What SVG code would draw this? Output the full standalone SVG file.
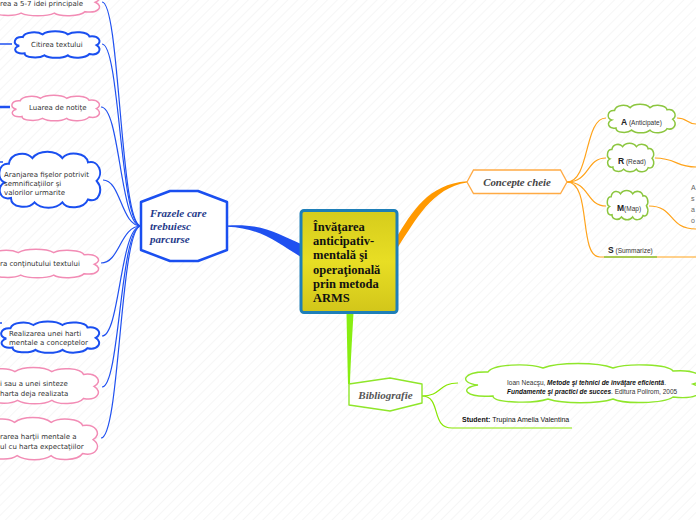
<svg xmlns="http://www.w3.org/2000/svg" width="696" height="520" viewBox="0 0 696 520">
<defs>
<pattern id="bg" width="7" height="7" patternUnits="userSpaceOnUse" patternTransform="rotate(45)">
<rect width="7" height="7" fill="#ffffff"/>
<line x1="0" y1="0" x2="0" y2="7" stroke="#f1f1f1" stroke-width="1.2"/>
</pattern>
<linearGradient id="yel" x1="0" y1="0" x2="0" y2="1">
<stop offset="0" stop-color="#d6cc1c"/>
<stop offset="0.5" stop-color="#e8de24"/>
<stop offset="1" stop-color="#d2c61a"/>
</linearGradient>
<symbol id="cloud" viewBox="0 0 100 40" preserveAspectRatio="none" overflow="visible">
<path vector-effect="non-scaling-stroke" d="M8,22 C0,20 2,8 12,9 C14,1 28,0 34,5 C40,-1 56,-1 62,5 C68,0 84,1 86,8 C96,6 101,16 94,21 C101,27 96,37 86,34 C82,41 66,41 62,36 C56,41 42,41 36,36 C30,41 14,40 14,33 C3,35 0,25 8,22 Z"/>
</symbol>
</defs>
<style>
.bl{fill:#fff;stroke:#1a4ff0;stroke-width:2}
.pk{fill:#fff;stroke:#f28cb5;stroke-width:1.5}
.gr{fill:#fff;stroke:#8cc63f;stroke-width:1.5}
.gb{fill:#fff;stroke:#8fe62a;stroke-width:1.4}
.sm{font-family:"Liberation Sans","DejaVu Sans",sans-serif;font-size:7px;fill:#333}
.lt{font-family:"DejaVu Sans","Liberation Sans",sans-serif;font-size:7px;fill:#333}
.bib{font-family:"Liberation Sans","DejaVu Sans",sans-serif;font-size:6.5px;fill:#333}
.cb{stroke:#1f50f0;stroke-width:1.2;fill:none}
.co{stroke:#ffa31a;stroke-width:1.2;fill:none}
.cg{stroke:#88e600;stroke-width:1.2;fill:none}
.hd{font-family:"Liberation Serif",serif;font-weight:bold;font-style:italic}
</style>
<rect width="696" height="520" fill="url(#bg)"/>

<g id="connectors">
<path d="M227,225.5 C262,223 278,234 301,244 L301,257 C279,244 262,228 227,226.7 Z" fill="#1f50f0"/>
<path d="M396,238 C412,212 428,184 467,181.2 L467,182.6 C432,188 416,220 398,247 Z" fill="#ff9900"/>
<path d="M346.5,313 L353.5,313 C352,340 350.5,365 350,384 L348,384 C347.5,365 347,340 346.5,313 Z" fill="#88ee11"/>
<path class="cb" d="M102,2 C120,2 120,226 141,226"/>
<path class="cb" d="M102,44 C120,44 120,226 141,226"/>
<path class="cb" d="M101,107 C120,107 120,226 141,226"/>
<path class="cb" d="M103,180 C121,180 121,226 141,226"/>
<path class="cb" d="M101,263 C120,263 120,226 141,226"/>
<path class="cb" d="M102,336 C120,336 120,226 141,226"/>
<path class="cb" d="M102,387 C120,387 120,226 141,226"/>
<path class="cb" d="M101,438 C120,438 120,226 141,226"/>
<line x1="0" y1="44" x2="12" y2="44" stroke="#1f50f0" stroke-width="1.5"/>
<line x1="0" y1="107" x2="10" y2="107" stroke="#1f50f0" stroke-width="2.5"/>
<line x1="0" y1="162" x2="3" y2="162" stroke="#1f50f0" stroke-width="1.5"/>
<line x1="0" y1="323" x2="2" y2="323" stroke="#1f50f0" stroke-width="1.5"/>
<path class="co" d="M567,182 C590,182 584,118 606,118"/>
<path class="co" d="M567,182 C590,182 586,158 606,158"/>
<path class="co" d="M567,182 C590,182 586,206 606,206"/>
<path class="co" d="M567,182 C592,182 578,257 600,257 L696,257"/>
<line x1="604" y1="257" x2="657" y2="257" stroke="#8cc63f" stroke-width="1.4"/>
<path class="co" d="M677,118 C688,118 686,124 696,124"/>
<path class="co" d="M655,158 C676,158 676,167 696,167"/>
<path class="co" d="M649,206 C675,206 668,229 696,229"/>
<path class="cg" d="M422,396 C442,396 438,383 458,383"/>
<path class="cg" d="M422,396 C442,396 430,428 452,428 L572,428"/>
</g>

<g id="central">
<rect x="301" y="210.5" width="96" height="102" rx="3" fill="url(#yel)" stroke="#1e7fb8" stroke-width="3"/>
<text font-family="Liberation Serif,serif" font-weight="bold" font-size="12.5" fill="#111">
<tspan x="313" y="231">Învăţarea</tspan>
<tspan x="313" y="245.2">anticipativ-</tspan>
<tspan x="313" y="259.4">mentală şi</tspan>
<tspan x="313" y="273.6">operaţională</tspan>
<tspan x="313" y="287.8">prin metoda</tspan>
<tspan x="313" y="302">ARMS</tspan>
</text>
</g>

<g id="frazele">
<path d="M141,202 L170,191 L198,191 L227,202 L227,250 L198,261 L170,261 L141,250 Z" fill="#fff" stroke="#1a4ff0" stroke-width="2.5" stroke-linejoin="round"/>
<text class="hd" font-size="11" fill="#1f3a8a"><tspan x="150" y="217">Frazele care</tspan><tspan x="150" y="230">trebuiesc</tspan><tspan x="150" y="243">parcurse</tspan></text>
</g>

<g id="n1"><use href="#cloud" class="pk" x="-25" y="-13" width="128" height="29"/><text class="lt" x="0" y="6">rea a 5-7 idei principale</text></g>
<g id="n2"><use href="#cloud" class="bl" x="12" y="31" width="90" height="27"/><text class="lt" x="31" y="47">Citirea textului</text></g>
<g id="n3"><use href="#cloud" class="pk" x="9" y="95" width="93" height="26"/><text class="lt" x="29" y="110">Luarea de notiţe</text></g>
<g id="n4"><use href="#cloud" class="bl" x="-4" y="151" width="107" height="57"/><text class="lt"><tspan x="4" y="176.5">Aranjarea fişelor potrivit</tspan><tspan x="4" y="185.5">semnificaţiilor şi</tspan><tspan x="4" y="194.5">valorilor urmarite</tspan></text></g>
<g id="n5"><use href="#cloud" class="pk" x="-25" y="249" width="127" height="29"/><text class="lt" x="0" y="265.5">ra conţinutului textului</text></g>
<g id="n6"><use href="#cloud" class="bl" x="-2" y="321" width="104" height="32"/><text class="lt"><tspan x="9" y="335.5">Realizarea unei harti</tspan><tspan x="9" y="344.5">mentale a conceptelor</tspan></text></g>
<g id="n7"><use href="#cloud" class="pk" x="-30" y="367" width="132" height="37"/><text class="lt"><tspan x="0" y="385.5">i sau a unei sinteze</tspan><tspan x="0" y="395.5">harta deja realizata</tspan></text></g>
<g id="n8"><use href="#cloud" class="pk" x="-30" y="417" width="131" height="43"/><text class="lt"><tspan x="0" y="438.5">rarea harţii mentale a</tspan><tspan x="0" y="448.5">ul cu harta expectaţiilor</tspan></text></g>

<g id="concepte">
<path d="M467,182 L473.5,170 L560.5,170 L567,182 L560.5,193.5 L473.5,193.5 Z" fill="#fff" stroke="#ffaa44" stroke-width="1.3"/>
<text class="hd" font-size="10.8" fill="#444" x="517" y="185.5" text-anchor="middle">Concepte cheie</text>
</g>

<g id="nA"><use href="#cloud" class="gr" x="606" y="104" width="71" height="29"/><text class="sm" x="621" y="124.5"><tspan font-weight="bold" font-size="8.5" fill="#222">A</tspan><tspan font-size="6.5"> (Anticipate)</tspan></text></g>
<g id="nR"><use href="#cloud" class="gr" x="606" y="143" width="49" height="29"/><text class="sm" x="618" y="163.5"><tspan font-weight="bold" font-size="8.5" fill="#222">R</tspan><tspan font-size="6.5"> (Read)</tspan></text></g>
<g id="nM"><use href="#cloud" class="gr" x="606" y="190" width="43" height="30"/><text class="sm" x="617" y="210.5"><tspan font-weight="bold" font-size="8.5" fill="#222">M</tspan><tspan font-size="6.5">(Map)</tspan></text></g>
<g id="nS"><text class="sm" x="608" y="253"><tspan font-weight="bold" font-size="8.5" fill="#222">S</tspan><tspan font-size="6.5"> (Summarize)</tspan></text></g>
<g id="nRight"><text class="sm" style="fill:#666"><tspan x="691" y="190">A</tspan><tspan x="691" y="201">s</tspan><tspan x="691" y="212">a</tspan><tspan x="691" y="223">o</tspan></text></g>

<g id="biblio">
<path d="M349,384 L390,378 L422,384 L422,403 L390,411 L349,405 Z" fill="#fff" stroke="#8fe62a" stroke-width="1.4" stroke-linejoin="round"/>
<text class="hd" font-size="11" fill="#555" x="385.5" y="398.5" text-anchor="middle">Bibliografie</text>
</g>
<g id="nBib"><use href="#cloud" class="gb" x="458" y="363" width="250" height="40"/><text class="bib"><tspan x="507" y="384.5">Ioan Neacşu, </tspan><tspan font-weight="bold" font-style="italic" fill="#111">Metode şi tehnici de învăţare eficientă</tspan><tspan>.</tspan><tspan x="507" y="393.5" font-weight="bold" font-style="italic" fill="#111">Fundamente şi practici de succes</tspan><tspan>. Editura Polirom, 2005</tspan></text></g>
<g id="nStudent"><text class="sm" x="462" y="421.5" style="fill:#111"><tspan font-weight="bold">Student:</tspan><tspan> Trupina Amelia Valentina</tspan></text></g>
</svg>
